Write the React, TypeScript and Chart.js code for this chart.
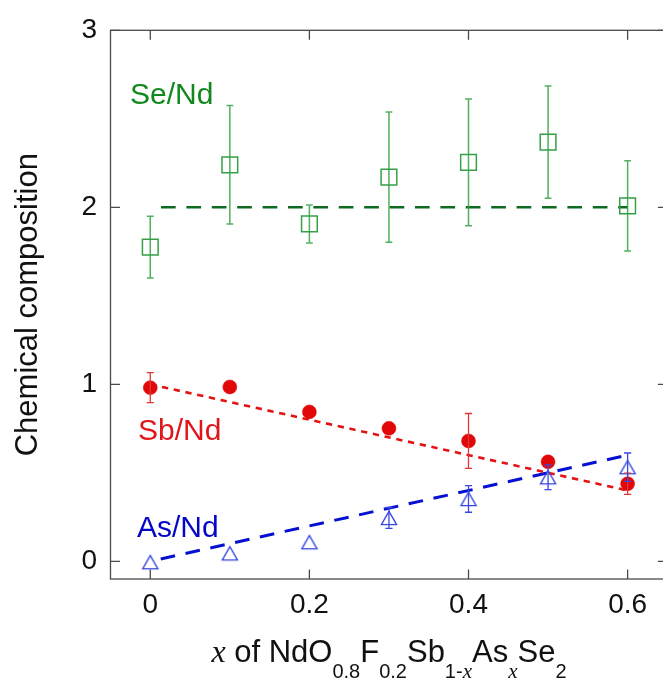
import React, { useEffect, useRef } from 'react';
import { Chart, registerables } from 'chart.js';

Chart.register(...registerables);

// ---- data ----
const xValues = [0, 0.1, 0.2, 0.3, 0.4, 0.5, 0.6];
const seValues = [1.775, 2.24, 1.906, 2.17, 2.254, 2.368, 2.008];
const seErrors = [0.175, 0.335, 0.107, 0.368, 0.358, 0.317, 0.255];
const sbValues = [0.981, 0.985, 0.844, 0.751, 0.68, 0.562, 0.438];
const sbErrors = [0.085, 0, 0, 0, 0.155, 0, 0.06];
const asValues = [-0.005, 0.045, 0.108, 0.245, 0.352, 0.475, 0.532];
const asErrors = [0, 0, 0, 0.059, 0.075, 0.07, 0.08];

const fitX = [0, 0.6];
const seFit = [2, 2];
const sbFit = [1, 0.4];
const asFit = [0, 0.6];

const xTicks = [0, 0.2, 0.4, 0.6];
const xTickLabels = ['0', '0.2', '0.4', '0.6'];
const yTicks = [0, 1, 2, 3];
const yTickLabels = ['0', '1', '2', '3'];

const seriesNames = ['Se/Nd', 'Sb/Nd', 'As/Nd'];

// ---- styles / layout ----
const SANS = '"Liberation Sans", Arial, Helvetica, sans-serif';
const SERIF = '"Liberation Serif", "Times New Roman", serif';
const GREEN_TEXT = '#10891c';
const RED_TEXT = '#e0161b';
const BLUE_TEXT = '#0505c8';
const labelAnchors = [
  { x: -0.0255, y: 2.583, color: GREEN_TEXT },
  { x: -0.0154, y: 0.683, color: RED_TEXT },
  { x: -0.0167, y: 0.139, color: BLUE_TEXT },
];
const CANVAS_W = 680;
const CANVAS_H = 683;

const toPts = (xs: number[], ys: number[]) => xs.map((x, i) => ({ x, y: ys[i] }));

function makeTriangle(color: string): HTMLCanvasElement {
  const c = document.createElement('canvas');
  c.width = 20;
  c.height = 18;
  const g = c.getContext('2d')!;
  const cx = 10, cy = 9, hw = 7.6, hh = 6.6;
  g.strokeStyle = color;
  g.lineWidth = 1.3;
  g.beginPath();
  g.moveTo(cx, cy - hh);
  g.lineTo(cx + hw, cy + hh);
  g.lineTo(cx - hw, cy + hh);
  g.closePath();
  g.stroke();
  return c;
}

const lookup = (ticks: number[], labels: string[]) => (v: any) => {
  const i = ticks.findIndex((t) => Math.abs(t - Number(v)) < 1e-9);
  return i >= 0 ? labels[i] : '';
};

const decorPlugin = {
  id: 'decor',
  afterDatasetsDraw(chart: any) {
    const { ctx, scales } = chart;
    const xs = scales.x, ys = scales.y;
    chart.data.datasets.forEach((ds: any) => {
      if (!ds.errors) return;
      ctx.save();
      ctx.strokeStyle = ds.errorColor;
      ctx.lineWidth = ds.errorWidth;
      const cap = ds.errorCap;
      ds.data.forEach((p: any, j: number) => {
        const e = ds.errors[j];
        if (!e) return;
        const px = xs.getPixelForValue(p.x);
        const top = ys.getPixelForValue(p.y + e);
        const bot = ys.getPixelForValue(p.y - e);
        ctx.beginPath();
        ctx.moveTo(px, top);
        ctx.lineTo(px, bot);
        ctx.moveTo(px - cap, top);
        ctx.lineTo(px + cap, top);
        ctx.moveTo(px - cap, bot);
        ctx.lineTo(px + cap, bot);
        ctx.stroke();
      });
      ctx.restore();
    });
  },
  afterDraw(chart: any) {
    const { ctx, chartArea: a, scales } = chart;
    const xs = scales.x, ys = scales.y;
    ctx.save();
    // frame
    ctx.strokeStyle = '#4a4a4a';
    ctx.lineWidth = 1.3;
    ctx.strokeRect(a.left, a.top, a.right - a.left, a.bottom - a.top);
    // inward ticks
    const TL = 9.5;
    ctx.beginPath();
    xTicks.forEach((v) => {
      const px = xs.getPixelForValue(v);
      ctx.moveTo(px, a.bottom);
      ctx.lineTo(px, a.bottom - TL);
      ctx.moveTo(px, a.top);
      ctx.lineTo(px, a.top + TL);
    });
    yTicks.forEach((v) => {
      const py = ys.getPixelForValue(v);
      ctx.moveTo(a.left, py);
      ctx.lineTo(a.left + TL, py);
      ctx.moveTo(a.right, py);
      ctx.lineTo(a.right - TL, py);
    });
    ctx.stroke();

    // series labels
    ctx.font = `30px ${SANS}`;
    ctx.textAlign = 'left';
    ctx.textBaseline = 'alphabetic';
    seriesNames.forEach((name, i) => {
      const an = labelAnchors[i];
      ctx.fillStyle = an.color;
      ctx.fillText(name, xs.getPixelForValue(an.x), ys.getPixelForValue(an.y));
    });

    // y title
    ctx.fillStyle = '#111';
    ctx.save();
    ctx.translate(36.5, (a.top + a.bottom) / 2);
    ctx.rotate(-Math.PI / 2);
    ctx.textAlign = 'center';
    ctx.font = `31px ${SANS}`;
    ctx.fillText('Chemical composition', 0, 0);
    ctx.restore();

    // x title with subscripts
    const MAIN = `31px ${SANS}`;
    const SUB = `20px ${SANS}`;
    const IT = `italic 32px ${SERIF}`;
    const ITSUB = `italic 21px ${SERIF}`;
    const segs: { t: string; f: string; sub: boolean }[] = [
      { t: 'x', f: IT, sub: false },
      { t: ' of NdO', f: MAIN, sub: false },
      { t: '0.8', f: SUB, sub: true },
      { t: 'F', f: MAIN, sub: false },
      { t: '0.2', f: SUB, sub: true },
      { t: 'Sb', f: MAIN, sub: false },
      { t: '1-', f: SUB, sub: true },
      { t: 'x', f: ITSUB, sub: true },
      { t: 'As', f: MAIN, sub: false },
      { t: 'x', f: ITSUB, sub: true },
      { t: 'Se', f: MAIN, sub: false },
      { t: '2', f: SUB, sub: true },
    ];
    let total = 0;
    const widths = segs.map((s) => {
      ctx.font = s.f;
      const w = ctx.measureText(s.t).width;
      total += w;
      return w;
    });
    let cx = (a.left + a.right) / 2 - total / 2;
    ctx.textAlign = 'left';
    segs.forEach((s, i) => {
      ctx.font = s.f;
      ctx.fillText(s.t, cx, s.sub ? 678 : 661.7);
      cx += widths[i];
    });
    ctx.restore();
  },
};

export default function App() {
  const ref = useRef<HTMLCanvasElement | null>(null);
  useEffect(() => {
    if (!ref.current) return;
    const tri = makeTriangle('#3142de');
    const chart = new Chart(ref.current, {
      type: 'scatter',
      data: {
        datasets: [
          {
            label: 'Se/Nd',
            data: toPts(xValues, seValues),
            pointStyle: 'rect',
            pointRadius: 11.1,
            pointHoverRadius: 11.1,
            borderColor: '#35a045',
            backgroundColor: 'rgba(0,0,0,0)',
            borderWidth: 1.5,
            showLine: false,
            errors: seErrors,
            errorColor: 'rgba(52,160,68,0.85)',
            errorWidth: 1.5,
            errorCap: 3.4,
          } as any,
          {
            label: 'Sb/Nd',
            data: toPts(xValues, sbValues),
            pointStyle: 'circle',
            pointRadius: 7,
            pointHoverRadius: 7,
            borderColor: '#e00808',
            backgroundColor: '#e00808',
            borderWidth: 0.5,
            showLine: false,
            errors: sbErrors,
            errorColor: '#e0383a',
            errorWidth: 1.3,
            errorCap: 3.6,
          } as any,
          {
            label: 'As/Nd',
            data: toPts(xValues, asValues),
            pointStyle: tri,
            pointRadius: 9,
            borderColor: '#3142de',
            backgroundColor: 'rgba(0,0,0,0)',
            showLine: false,
            errors: asErrors,
            errorColor: '#3a48e0',
            errorWidth: 1.3,
            errorCap: 3.6,
          } as any,
          {
            label: 'Se fit',
            data: toPts(fitX, seFit),
            showLine: true,
            pointRadius: 0,
            borderColor: '#0f6a22',
            borderWidth: 2.6,
            borderDash: [14.7, 10.7],
            borderDashOffset: 14.7,
          } as any,
          {
            label: 'Sb fit',
            data: toPts(fitX, sbFit),
            showLine: true,
            pointRadius: 0,
            borderColor: '#e51212',
            borderWidth: 2.6,
            borderDash: [6.3, 5.7],
          } as any,
          {
            label: 'As fit',
            data: toPts(fitX, asFit),
            showLine: true,
            pointRadius: 0,
            borderColor: '#0610d2',
            borderWidth: 3,
            borderDash: [14.7, 10.7],
            borderDashOffset: 14.7,
          } as any,
        ],
      },
      options: {
        animation: false,
        responsive: false,
        events: [],
        layout: { padding: { left: 0, top: 27.3, right: CANVAS_W - 668.4, bottom: 0 } },
        plugins: { legend: { display: false }, tooltip: { enabled: false } },
        scales: {
          x: {
            type: 'linear',
            min: -0.05,
            max: 0.65,
            grid: { display: false, drawTicks: false },
            border: { display: false },
            afterBuildTicks: (s: any) => {
              s.ticks = xTicks.map((v) => ({ value: v }));
            },
            afterFit: (s: any) => {
              s.height = CANVAS_H - 579;
            },
            ticks: {
              autoSkip: false,
              maxRotation: 0,
              padding: 9,
              color: '#111',
              font: { family: SANS, size: 28 },
              callback: lookup(xTicks, xTickLabels),
            },
          },
          y: {
            type: 'linear',
            min: -0.1,
            max: 3,
            grid: { display: false, drawTicks: false },
            border: { display: false },
            afterBuildTicks: (s: any) => {
              s.ticks = yTicks.map((v) => ({ value: v }));
            },
            afterFit: (s: any) => {
              s.width = 110.5;
            },
            ticks: {
              autoSkip: false,
              padding: 13.5,
              color: '#111',
              font: { family: SANS, size: 28 },
              callback: lookup(yTicks, yTickLabels),
            },
          },
        },
      } as any,
      plugins: [decorPlugin],
    });
    return () => chart.destroy();
  }, []);

  return (
    <div style={{ position: 'fixed', left: 0, top: 0, width: 663, height: 683, overflow: 'hidden', background: '#fff' }}>
      <canvas
        ref={ref}
        width={CANVAS_W}
        height={CANVAS_H}
        style={{ display: 'block', width: CANVAS_W, height: CANVAS_H }}
      />
    </div>
  );
}
